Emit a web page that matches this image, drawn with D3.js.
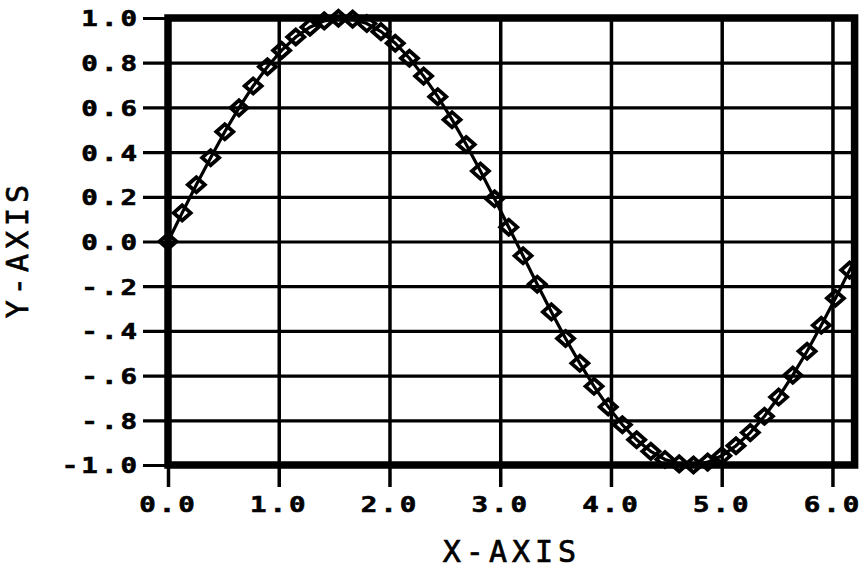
<!DOCTYPE html>
<html>
<head>
<meta charset="utf-8">
<script src="https://cdn.jsdelivr.net/npm/d3@7"></script>
<style>
  html, body { margin: 0; padding: 0; background: #fff; }
  svg { display: block; }
</style>
</head>
<body>
<svg id="chart" width="861" height="569"></svg>
<script>
// ---- data ----
const xValues = [0.000, 0.128, 0.256, 0.385, 0.513, 0.641, 0.769, 0.898, 1.026, 1.154,
  1.282, 1.411, 1.539, 1.667, 1.795, 1.923, 2.052, 2.180, 2.308, 2.436,
  2.565, 2.693, 2.821, 2.949, 3.077, 3.206, 3.334, 3.462, 3.590, 3.719,
  3.847, 3.975, 4.103, 4.232, 4.360, 4.488, 4.616, 4.745, 4.873, 5.001,
  5.129, 5.258, 5.386, 5.514, 5.642, 5.771, 5.899, 6.027, 6.155, 6.283];
const yValues = [0.000, 0.128, 0.254, 0.375, 0.491, 0.598, 0.696, 0.782, 0.855, 0.915,
  0.959, 0.987, 0.999, 0.995, 0.975, 0.939, 0.887, 0.820, 0.740, 0.648,
  0.545, 0.434, 0.315, 0.191, 0.064, -0.064, -0.191, -0.315, -0.434, -0.545,
  -0.648, -0.740, -0.820, -0.887, -0.939, -0.975, -0.995, -1.000, -0.987, -0.959,
  -0.914, -0.855, -0.782, -0.696, -0.598, -0.491, -0.375, -0.254, -0.128, 0.000];
const xTickValues = [0, 1, 2, 3, 4, 5, 6];
const xTickLabels = ["0.0", "1.0", "2.0", "3.0", "4.0", "5.0", "6.0"];
const yTickValues = [1.0, 0.8, 0.6, 0.4, 0.2, 0.0, -0.2, -0.4, -0.6, -0.8, -1.0];
const yTickLabels = ["1.0", "0.8", "0.6", "0.4", "0.2", "0.0", "-.2", "-.4", "-.6", "-.8", "-1.0"];
const xDomain = [0, 6.2];
const yDomain = [-1, 1];
const xTitle = "X-AXIS";
const yTitle = "Y-AXIS";

// ---- layout ----
const svg = d3.select("#chart");
const mLeft = 168, mRight = 854.6, mTop = 18, mBottom = 465;
const x = d3.scaleLinear().domain(xDomain).range([mLeft, mRight]);
const y = d3.scaleLinear().domain(yDomain).range([mBottom, mTop]);
const plotW = mRight - mLeft, plotH = mBottom - mTop;

const tickFont = "'DejaVu Sans Mono', 'Liberation Mono', monospace";
const sx = 1.25;

svg.append("defs").append("clipPath").attr("id", "clipR")
  .append("rect").attr("x", 0).attr("y", 0).attr("width", 858).attr("height", 569);

// horizontal grid + left outer ticks (grid lines extend left of frame)
const gy = svg.append("g")
  .attr("transform", `translate(${mRight},0)`)
  .call(d3.axisLeft(y).tickValues(yTickValues).tickSize(plotW + 25).tickFormat(""));
gy.select(".domain").remove();
gy.selectAll(".tick line").attr("stroke", "#000").attr("stroke-width", 3.2);

// vertical grid
const gx = svg.append("g")
  .attr("transform", `translate(0,${mTop})`)
  .call(d3.axisBottom(x).tickValues(xTickValues).tickSize(plotH).tickFormat(""));
gx.select(".domain").remove();
gx.selectAll(".tick line").attr("stroke", "#000").attr("stroke-width", 3.5);

// outer x ticks + labels
const ax = svg.append("g")
  .attr("transform", `translate(0,${mBottom})`)
  .call(d3.axisBottom(x).tickValues(xTickValues).tickSize(22).tickPadding(0)
    .tickFormat((d, i) => xTickLabels[i]));
ax.select(".domain").remove();
ax.selectAll(".tick line").attr("stroke", "#000").attr("stroke-width", 3.5);
ax.selectAll(".tick text")
  .attr("y", 47).attr("dy", null)
  .attr("x", 0)
  .attr("transform", `scale(${sx},1)`)
  .attr("fill", "#000").attr("stroke", "#000").attr("stroke-width", 0.6)
  .style("font-family", tickFont)
  .style("font-weight", "bold")
  .style("font-size", "22px")
  .style("letter-spacing", "2.4px");

// y labels
const ay = svg.append("g")
  .attr("transform", `translate(${mLeft},0)`)
  .call(d3.axisLeft(y).tickValues(yTickValues).tickSize(0).tickPadding(0)
    .tickFormat((d, i) => yTickLabels[i]));
ay.select(".domain").remove();
ay.selectAll(".tick text")
  .attr("x", -28 / sx).attr("dy", "0.36em")
  .attr("transform", `scale(${sx},1)`)
  .attr("fill", "#000").attr("stroke", "#000").attr("stroke-width", 0.6)
  .attr("text-anchor", "end")
  .style("font-family", tickFont)
  .style("font-weight", "bold")
  .style("font-size", "22px")
  .style("letter-spacing", "2.4px");

// frame
svg.append("rect")
  .attr("x", x(0)).attr("y", y(1))
  .attr("width", x(6.2) - x(0)).attr("height", y(-1) - y(1))
  .attr("fill", "none").attr("stroke", "#000").attr("stroke-width", 7.5);

// data line + markers
const pts = xValues.map((v, i) => [v, yValues[i]]);
const dataG = svg.append("g").attr("clip-path", "url(#clipR)");
dataG.append("path")
  .datum(pts)
  .attr("fill", "none")
  .attr("stroke", "#000")
  .attr("stroke-width", 3.2)
  .attr("d", d3.line().x(d => x(d[0])).y(d => y(d[1])));

dataG.append("g").selectAll("path.mk")
  .data(pts)
  .join("path")
  .attr("class", "mk")
  .attr("transform", d => `translate(${x(d[0])},${y(d[1])})`)
  .attr("d", "M-8.5,0 L0,-7.5 L8.5,0 L0,7.5 Z")
  .attr("fill", "none")
  .attr("stroke", "#000")
  .attr("stroke-width", 3.8)
  .attr("stroke-linejoin", "miter");

// axis titles
svg.append("text")
  .attr("x", 512).attr("y", 562)
  .attr("text-anchor", "middle")
  .attr("fill", "#000").attr("stroke", "#000").attr("stroke-width", 0.7)
  .style("font-family", tickFont)
  .style("font-size", "30px")
  .style("letter-spacing", "5px")
  .text(xTitle);

svg.append("text")
  .attr("transform", "translate(28,249) rotate(-90)")
  .attr("text-anchor", "middle")
  .attr("fill", "#000").attr("stroke", "#000").attr("stroke-width", 0.7)
  .style("font-family", tickFont)
  .style("font-size", "30px")
  .style("letter-spacing", "5px")
  .text(yTitle);
</script>
</body>
</html>
